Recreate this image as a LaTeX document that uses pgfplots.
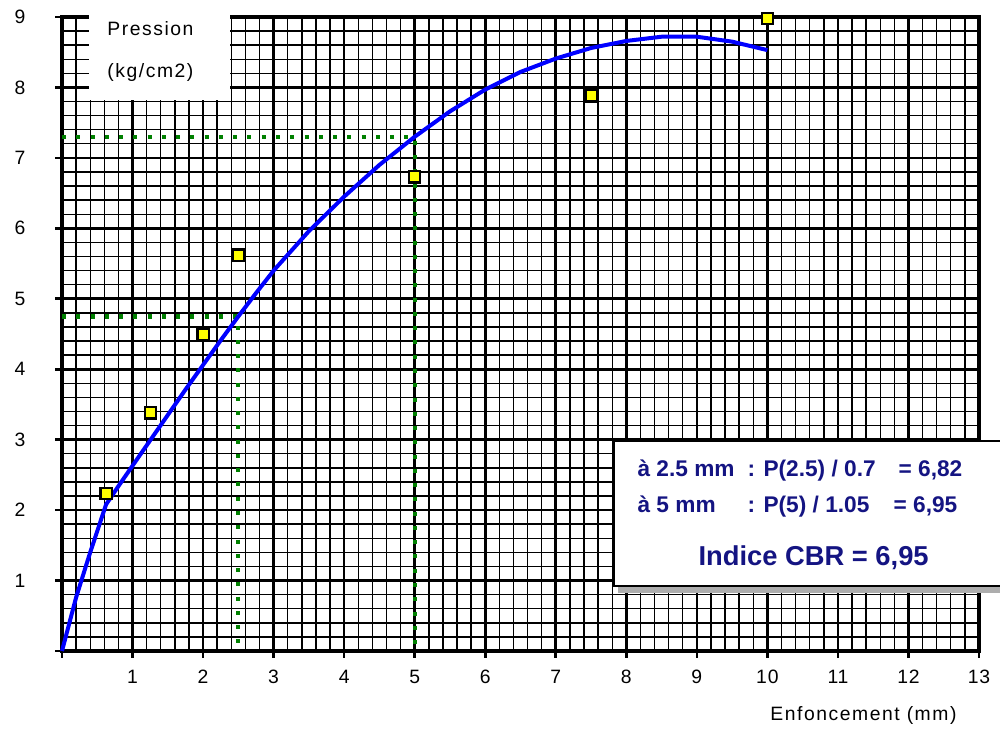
\documentclass[border=0pt]{standalone}
\usepackage{pgfplots}
\pgfplotsset{compat=1.18}
\usepackage{fontspec}
\setmainfont{Liberation Sans}
\newfontfamily\spaced[LetterSpace=8]{Liberation Sans}
\newfontfamily\tickfont[LetterSpace=4]{Liberation Sans}
\definecolor{cbrblue}{RGB}{0,0,255}
\definecolor{dotgreen}{RGB}{0,128,0}
\definecolor{navytext}{RGB}{20,20,130}
\definecolor{markyellow}{RGB}{255,255,0}
\begin{document}
\begin{tikzpicture}[txt/.style={anchor=base west, inner sep=0pt}]
\begin{axis}[
  scale only axis, width=687.75pt, height=475.5pt,
  xmin=0, xmax=13, ymin=0, ymax=9,
  xtick={0,...,13}, ytick={0,...,9},
  xticklabels={,1,2,3,4,5,6,7,8,9,10,11,12,13},
  yticklabels={,1,2,3,4,5,6,7,8,9},
  minor x tick num=4, minor y tick num=4,
  grid=both,
  major grid style={black, line width=2pt},
  minor grid style={black, line width=1.05pt},
  axis line style={black, line width=2.4pt},
  tick pos=left, tick align=outside,
  major tick length=5pt, minor tick length=0pt,
  major tick style={black, line width=2pt},
  /pgf/number format/assume math mode=true,
  ticklabel style={font=\tickfont\fontsize{14.5}{17}\selectfont},
  yticklabel style={xshift=-19pt},
  xticklabel style={yshift=-5.5pt},
  clip=false,
]
% reading lines (green dotted)
\addplot[dotgreen, line width=3.2pt, dash pattern=on 3pt off 7.7pt] coordinates {(0,4.75) (2.5,4.75) (2.5,0)};
\addplot[dotgreen, line width=3.2pt, dash pattern=on 3pt off 7.7pt] coordinates {(0,7.3) (5,7.3) (5,0)};
% fitted curve
\addplot[cbrblue, line width=3pt, line join=round] coordinates {
 (0,0) (0.2,0.76) (0.4,1.4) (0.625,2.08) (0.8,2.34) (1,2.63) (1.25,2.99)
 (1.5,3.35) (1.75,3.71) (2,4.06) (2.25,4.41) (2.5,4.75) (2.75,5.08) (3,5.4)
 (3.5,5.96) (4,6.45) (4.5,6.9) (5,7.3) (5.5,7.66) (6,7.97) (6.5,8.22)
 (7,8.41) (7.5,8.56) (8,8.66) (8.5,8.72) (9,8.72) (9.5,8.65) (10,8.53)};
% measured points
\addplot[only marks, mark=square*, mark size=4.2pt,
  mark options={fill=markyellow, draw=black, line width=1.6pt}] coordinates {
 (0.625,2.24) (1.25,3.38) (2,4.49) (2.5,5.62) (5,6.73) (7.5,7.88) (10,8.98)};
% y-axis title box
\fill[white] (axis cs:0.385,7.815) rectangle (axis cs:2.385,9.1);
\node[txt, font=\spaced\fontsize{14.5}{17}\selectfont] at (axis cs:0.64,8.74) {Pression};
\node[txt, font=\spaced\fontsize{14.5}{17}\selectfont] at (axis cs:0.64,8.14) {(kg/cm2)};
% x-axis title
\node[txt, font=\spaced\fontsize{14.5}{17}\selectfont] at (axis cs:10.04,-0.98) {Enfoncement (mm)};
% CBR result box
\fill[black!32] (axis cs:7.88,0.83) rectangle (axis cs:13.6,2.9);
\filldraw[fill=white, draw=black, line width=1.8pt] (axis cs:7.82,0.92) rectangle (axis cs:13.6,2.98);
\node[txt, text=navytext, font=\bfseries\fontsize{17}{20}\selectfont] at (axis cs:8.156,2.47) {à 2.5 mm};
\node[txt, text=navytext, font=\bfseries\fontsize{17}{20}\selectfont] at (axis cs:9.716,2.47) {: P(2.5) / 0.7};
\node[txt, text=navytext, font=\bfseries\fontsize{17}{20}\selectfont] at (axis cs:11.858,2.47) {= 6,82};
\node[txt, text=navytext, font=\bfseries\fontsize{17}{20}\selectfont] at (axis cs:8.156,1.97) {à 5 mm};
\node[txt, text=navytext, font=\bfseries\fontsize{17}{20}\selectfont] at (axis cs:9.716,1.97) {: P(5) / 1.05};
\node[txt, text=navytext, font=\bfseries\fontsize{17}{20}\selectfont] at (axis cs:11.787,1.97) {= 6,95};
\node[txt, text=navytext, font=\bfseries\fontsize{20.5}{24}\selectfont] at (axis cs:9.02,1.22) {Indice CBR = 6,95};
\end{axis}
\pgfresetboundingbox
\path[use as bounding box] (current axis.south west) ++(-46.5pt,-59.25pt) rectangle ++(750pt,547.5pt);
\end{tikzpicture}
\end{document}
